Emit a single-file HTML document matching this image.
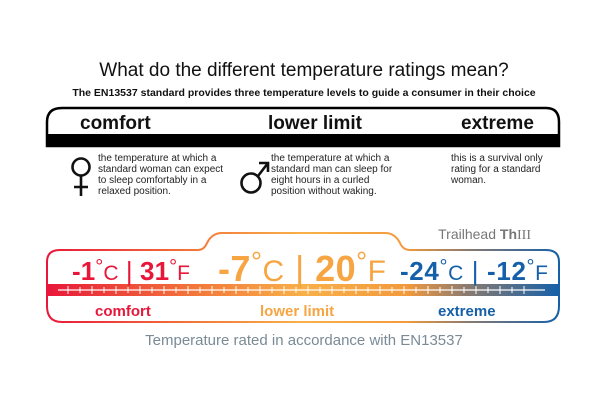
<!DOCTYPE html>
<html><head><meta charset="utf-8"><style>
html,body{margin:0;padding:0;background:#fff;}
svg{display:block;font-family:"Liberation Sans",sans-serif;}
</style></head><body>
<svg width="608" height="404" viewBox="0 0 608 404">
<defs>
<linearGradient id="g" x1="46" x2="560" gradientUnits="userSpaceOnUse">
<stop offset="0" stop-color="#e8173a"/>
<stop offset="0.3" stop-color="#f37a3a"/>
<stop offset="0.5" stop-color="#f8b049"/>
<stop offset="0.7" stop-color="#f39a3c"/>
<stop offset="0.82" stop-color="#8a7a70"/>
<stop offset="1" stop-color="#1560a8"/>
</linearGradient>
</defs>
<text x="304" y="76" text-anchor="middle" font-size="19" fill="#111">What do the different temperature ratings mean?</text>
<text x="304" y="96" text-anchor="middle" font-size="10.5" font-weight="bold" fill="#111">The EN13537 standard provides three temperature levels to guide a consumer in their choice</text>
<path d="M47,146 L47,122 Q47,108 62,108 L546,108 Q559,108 559,122 L559,146 Z" fill="#fff" stroke="#000" stroke-width="2.5"/>
<rect x="46" y="134" width="514" height="13" fill="#000"/>
<text x="80" y="129" font-size="19" font-weight="bold" fill="#111">comfort</text>
<text x="268" y="129" font-size="19" font-weight="bold" fill="#111">lower limit</text>
<text x="461" y="129" font-size="19" font-weight="bold" fill="#111">extreme</text>
<g font-size="10" fill="#222">
<text x="98" y="161">the temperature at which a</text>
<text x="98" y="172">standard woman can expect</text>
<text x="98" y="183">to sleep comfortably in a</text>
<text x="98" y="194">relaxed position.</text>
<text x="271" y="161">the temperature at which a</text>
<text x="271" y="172">standard man can sleep for</text>
<text x="271" y="183">eight hours in a curled</text>
<text x="271" y="194">position without waking.</text>
<text x="451" y="161">this is a survival only</text>
<text x="451" y="172">rating for a standard</text>
<text x="451" y="183">woman.</text>
</g>
<g stroke="#111" stroke-width="2.6" fill="none">
<circle cx="81" cy="167" r="8.5"/>
<path d="M81,175.5V196M74,187H88"/>
<circle cx="251" cy="183" r="9.5"/>
<path d="M258,176L268,163M259,163H268V172"/>
</g>
<text x="531" y="239" text-anchor="end" font-size="14" fill="#777">Trailhead <tspan font-weight="bold">Th</tspan><tspan font-family="Liberation Serif">III</tspan></text>
<path d="M62,322 Q47,322 47,306 L47,262 Q47,250 60,250 L198,250 Q204,250 207,243 Q212,233 222,233 L385,233 Q395,233 400,243 Q403,250 410,250 L546,250 Q559,250 559,262 L559,306 Q559,322 544,322 Z" fill="none" stroke="url(#g)" stroke-width="2"/>
<rect x="46" y="284" width="514" height="12" fill="url(#g)"/>
<line x1="58" y1="290" x2="545" y2="290" stroke="#fff" stroke-width="1.2"/>
<g stroke="#fff" stroke-width="1">
<path d="M68,286V294M80,287V293M92,286V294M104,287V293M116,286V294M128,287V293M140,286V294M152,287V293M164,286V294M176,287V293M188,286V294M200,287V293M212,286V294M224,287V293M236,286V294M248,287V293M260,286V294M272,287V293M284,286V294M296,287V293M308,286V294M320,287V293M332,286V294M344,287V293M356,286V294M368,287V293M380,286V294M392,287V293M404,286V294M416,287V293M428,286V294M440,287V293M452,286V294M464,287V293M476,286V294M488,287V293M500,286V294M512,287V293M524,286V294"/>
</g>
<g font-size="26">
<text x="72" y="280" fill="#e8173a" textLength="118" lengthAdjust="spacing"><tspan font-weight="bold">-1</tspan><tspan font-size="20" dy="-7">°</tspan><tspan font-size="21" dy="7">C</tspan> | <tspan font-weight="bold">31</tspan><tspan font-size="20" dy="-7">°</tspan><tspan font-size="21" dy="7">F</tspan></text>
<text x="218" y="281" font-size="36" fill="#f7a543" textLength="168" lengthAdjust="spacing"><tspan font-weight="bold">-7</tspan><tspan font-size="28" dy="-10">°</tspan><tspan font-size="30" dy="10">C</tspan> | <tspan font-weight="bold">20</tspan><tspan font-size="28" dy="-10">°</tspan><tspan font-size="30" dy="10">F</tspan></text>
<text x="400" y="280" fill="#1560a8" textLength="148" lengthAdjust="spacing"><tspan font-weight="bold">-24</tspan><tspan font-size="20" dy="-7">°</tspan><tspan font-size="21" dy="7">C</tspan> | <tspan font-weight="bold">-12</tspan><tspan font-size="20" dy="-7">°</tspan><tspan font-size="21" dy="7">F</tspan></text>
</g>
<text x="95" y="316" font-size="15" font-weight="bold" fill="#e8173a">comfort</text>
<text x="260" y="316" font-size="15" font-weight="bold" fill="#f7a543">lower limit</text>
<text x="438" y="316" font-size="15" font-weight="bold" fill="#1560a8">extreme</text>
<text x="304" y="345" text-anchor="middle" font-size="15" fill="#7a8a96">Temperature rated in accordance with EN13537</text>
</svg>
</body></html>
